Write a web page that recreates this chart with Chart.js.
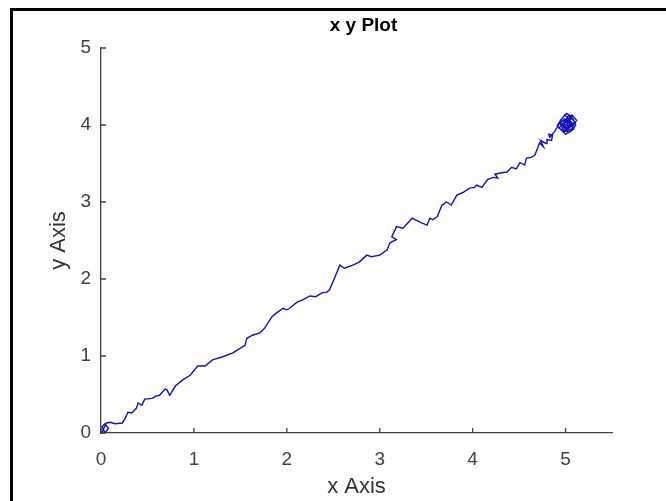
<!DOCTYPE html>
<html lang="en">
  <head>
    <meta charset="UTF-8" />
    <title>x y Plot</title>
    <style>
      html, body { margin: 0; padding: 0; background: #fff; }
    </style>
  </head>

  <body>
    <canvas id="lienzo" width="666" height="501"></canvas>
    <script src="https://cdn.jsdelivr.net/npm/chart.js"></script>
    <script>
      // path, in data units
      const xs = [
        0.00, 0.03, 0.01, 0.04, 0.08, 0.05, 0.02, 0.06, 0.10, 0.15,
        0.23, 0.26, 0.29, 0.33, 0.38, 0.40, 0.44, 0.47, 0.55, 0.59,
        0.63, 0.69, 0.71, 0.74, 0.80, 0.88, 0.96, 1.04, 1.12, 1.20,
        1.31, 1.42, 1.47, 1.55, 1.57, 1.63, 1.71, 1.76, 1.84, 1.89,
        1.96, 2.00, 2.03, 2.11, 2.17, 2.25, 2.31, 2.38, 2.43, 2.46,
        2.52, 2.57, 2.62, 2.71, 2.78, 2.86, 2.91, 3.00, 3.08, 3.11,
        3.18, 3.13, 3.18, 3.25, 3.35, 3.45, 3.51, 3.54, 3.57, 3.62,
        3.67, 3.72, 3.77, 3.83, 3.89, 3.97, 4.02, 4.04, 4.10, 4.16,
        4.22, 4.27, 4.24, 4.31, 4.37, 4.42, 4.47, 4.51, 4.56, 4.58,
        4.63, 4.67, 4.70, 4.72, 4.76, 4.73, 4.79, 4.80, 4.85, 4.86,
        4.82, 4.83, 4.88, 4.91, 4.94, 4.99,
        5.03, 4.98, 5.06, 5.01, 4.95, 5.04, 5.09, 5.02, 4.97, 5.05,
        5.10, 5.04, 4.99, 4.93, 4.98, 5.03, 5.08, 5.11, 5.06, 5.00,
        4.96, 4.91, 4.95, 5.01, 5.07, 5.04, 4.98, 5.02, 5.08, 5.05,
        4.99, 4.94, 4.97, 5.03, 5.09, 5.06, 5.00, 4.96, 5.02, 5.07,
        5.12, 5.08, 5.03, 4.98, 5.01, 5.05, 5.00
      ];
      const ys = [
        0.00, 0.04, 0.08, 0.12, 0.06, 0.01, 0.04, 0.13, 0.14, 0.12,
        0.13, 0.19, 0.27, 0.26, 0.32, 0.39, 0.36, 0.44, 0.45, 0.48,
        0.49, 0.57, 0.56, 0.49, 0.61, 0.69, 0.75, 0.87, 0.87, 0.95,
        0.99, 1.04, 1.08, 1.14, 1.23, 1.27, 1.30, 1.36, 1.51, 1.56,
        1.62, 1.60, 1.62, 1.70, 1.73, 1.78, 1.77, 1.82, 1.83, 1.86,
        2.03, 2.18, 2.14, 2.18, 2.22, 2.31, 2.29, 2.31, 2.38, 2.47,
        2.51, 2.55, 2.68, 2.66, 2.79, 2.73, 2.70, 2.79, 2.77, 2.81,
        2.96, 3.00, 2.96, 3.09, 3.12, 3.18, 3.19, 3.22, 3.19, 3.29,
        3.32, 3.31, 3.36, 3.38, 3.39, 3.45, 3.43, 3.51, 3.48, 3.57,
        3.58, 3.61, 3.70, 3.77, 3.72, 3.80, 3.76, 3.81, 3.80, 3.87,
        3.88, 3.84, 3.91, 3.97, 4.04, 4.13,
        4.09, 4.05, 4.02, 3.97, 4.01, 4.06, 4.01, 3.94, 3.99, 4.10,
        4.04, 3.97, 3.91, 3.96, 4.03, 4.12, 4.08, 4.00, 3.92, 3.88,
        3.93, 3.99, 4.07, 4.15, 4.11, 4.04, 3.98, 3.92, 3.96, 4.03,
        4.08, 4.02, 3.95, 3.90, 3.95, 4.01, 4.06, 4.00, 4.05, 4.13,
        4.06, 3.99, 4.03, 3.97, 3.94, 4.00, 4.00
      ];
      const xTicks = [0, 1, 2, 3, 4, 5];
      const yTicks = [0, 1, 2, 3, 4, 5];

      const puntos = xs.map((x, i) => ({ x: x, y: ys[i] }));
      const gris = "#404040";
      const fuente = "'Liberation Sans', Arial, sans-serif";

      // marco, titulo y marcas hacia dentro (estilo MATLAB)
      const extras = {
        id: "extras",
        beforeDraw(chart) {
          const c = chart.ctx;
          c.save();
          c.fillStyle = "#000";
          c.fillRect(10, 8, 3, 501);
          c.fillRect(10, 8, 666, 3);
          c.restore();
        },
        afterDraw(chart) {
          const c = chart.ctx;
          const sx = chart.scales.x;
          const sy = chart.scales.y;
          const area = chart.chartArea;
          c.save();
          c.strokeStyle = gris;
          c.lineWidth = 1.3;
          c.beginPath();
          xTicks.forEach((v) => {
            const px = sx.getPixelForValue(v);
            c.moveTo(px, area.bottom);
            c.lineTo(px, area.bottom - 5);
          });
          yTicks.forEach((v) => {
            const py = sy.getPixelForValue(v);
            c.moveTo(area.left, py);
            c.lineTo(area.left + 5, py);
          });
          c.stroke();
          c.fillStyle = "#000";
          c.font = "bold 19px " + fuente;
          c.textAlign = "center";
          c.textBaseline = "alphabetic";
          c.fillText("x y Plot", (area.left + area.right) / 2 + 7, 31);
          c.restore();
        },
      };

      const contexto = document.querySelector("#lienzo");
      const grafico = new Chart(contexto, {
        type: "scatter",
        data: {
          datasets: [
            {
              data: puntos,
              showLine: true,
              borderColor: "#1212b8",
              borderWidth: 1.4,
              pointRadius: 0,
              tension: 0,
              fill: false,
            },
          ],
        },
        options: {
          responsive: false,
          animation: false,
          layout: { padding: { top: 48, right: 54, left: 0, bottom: 0 } },
          plugins: {
            legend: { display: false },
            tooltip: { enabled: false },
          },
          scales: {
            x: {
              type: "linear",
              min: 0,
              max: 5.5,
              afterBuildTicks: (s) => {
                s.ticks = xTicks.map((v) => ({ value: v }));
              },
              afterFit: (s) => {
                s.height = 68;
              },
              grid: { display: false, drawTicks: false },
              border: { display: true, color: gris, width: 1.3 },
              ticks: {
                padding: 15,
                color: gris,
                font: { size: 19, family: fuente },
              },
              title: {
                display: true,
                text: "x Axis",
                color: "#333",
                padding: { top: 0, bottom: 1 },
                font: { size: 22, family: fuente },
              },
            },
            y: {
              type: "linear",
              min: 0,
              max: 5,
              afterBuildTicks: (s) => {
                s.ticks = yTicks.map((v) => ({ value: v }));
              },
              afterFit: (s) => {
                s.width = 101;
              },
              grid: { display: false, drawTicks: false },
              border: { display: true, color: gris, width: 1.3 },
              ticks: {
                padding: 10,
                color: gris,
                font: { size: 19, family: fuente },
              },
              title: {
                display: true,
                text: "y Axis",
                color: "#333",
                padding: { top: 46, bottom: 0 },
                font: { size: 22, family: fuente },
              },
            },
          },
        },
        plugins: [extras],
      });
    </script>
  </body>
</html>
